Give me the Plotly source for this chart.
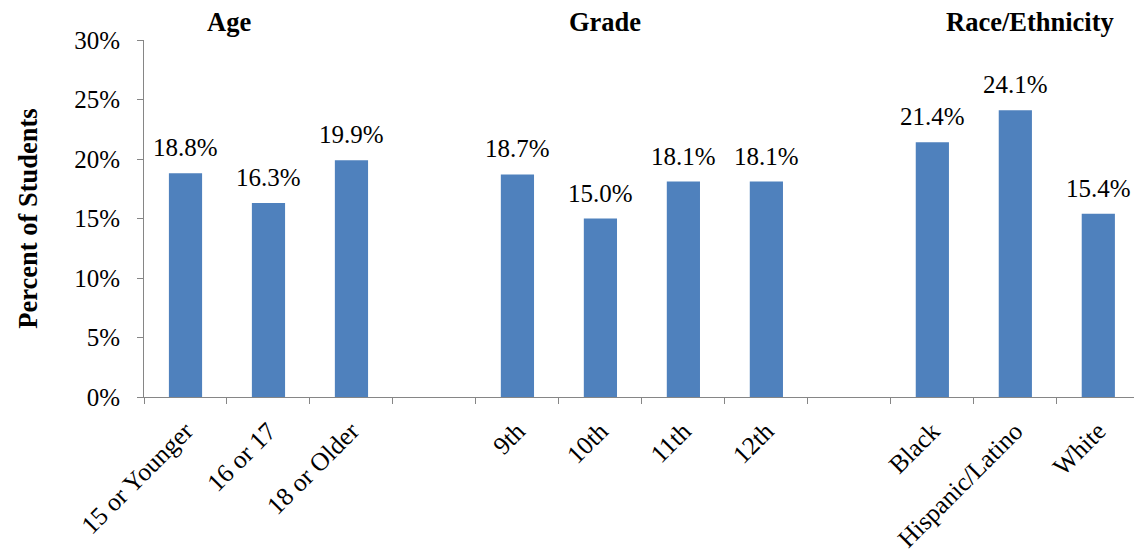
import plotly.graph_objects as go

# Categories, with blank spacer slots separating the three groups
categories = ["15 or Younger", "16 or 17", "18 or Older", " ",
              "9th", "10th", "11th", "12th", "  ",
              "Black", "Hispanic/Latino", "White"]
percent = [18.8, 16.3, 19.9, None,
           18.7, 15.0, 18.1, 18.1, None,
           21.4, 24.1, 15.4]
group_titles = ["Age", "Grade", "Race/Ethnicity"]
group_title_x = [0.52, 5.06, 10.18]
y_ticks = [0, 5, 10, 15, 20, 25, 30]
y_tick_labels = [f"{t}%" for t in y_ticks]

FONT = "Liberation Serif, Times New Roman, serif"
BAR = "#4F81BD"
AXIS = "#868686"
SIZE = 25
TITLE_SIZE = 26.5

fig = go.Figure(go.Bar(
    x=categories,
    y=percent,
    width=0.4,
    marker=dict(color=BAR, line=dict(width=0)),
    cliponaxis=False,
    hoverinfo="x+y",
))

# value labels sitting above each bar
for cat, val in zip(categories, percent):
    if val is None:
        continue
    fig.add_annotation(
        x=cat, y=val, xref="x", yref="y",
        text=f"{val:.1f}%", showarrow=False,
        xanchor="center", yanchor="bottom", yshift=10,
        font=dict(family=FONT, size=SIZE, color="black"),
    )

# group headings above the plot area
for title, xpos in zip(group_titles, group_title_x):
    fig.add_annotation(
        x=xpos, xref="x", y=1.0, yref="paper", yanchor="middle", yshift=18,
        text=f"<b>{title}</b>", showarrow=False,
        font=dict(family=FONT, size=TITLE_SIZE, color="black"),
    )

fig.update_layout(
    width=1134, height=554,
    margin=dict(l=144, r=0, t=40, b=157, autoexpand=False),
    plot_bgcolor="white", paper_bgcolor="white",
    showlegend=False,
    font=dict(family=FONT, size=SIZE, color="black"),
    xaxis=dict(
        type="category",
        categoryorder="array", categoryarray=categories,
        range=[-0.5, 11.43],
        automargin=False,
        tickson="boundaries",
        ticks="outside", ticklen=6, tickcolor=AXIS, tickwidth=1,
        showline=True, linecolor=AXIS, linewidth=1,
        tickangle=-45,
        ticklabelstandoff=8,
        tickfont=dict(family=FONT, size=25.5, color="black"),
        showgrid=False,
    ),
    yaxis=dict(
        range=[0, 30],
        automargin=False,
        tickmode="array",
        tickvals=y_ticks,
        ticktext=y_tick_labels,
        ticks="outside", ticklen=6, tickcolor=AXIS, tickwidth=1,
        showline=True, linecolor=AXIS, linewidth=1,
        ticklabelstandoff=12,
        showgrid=False, zeroline=False,
        tickfont=dict(family=FONT, size=SIZE, color="black"),
        title=dict(text="<b>Percent of Students</b>", standoff=28,
                   font=dict(family=FONT, size=TITLE_SIZE, color="black")),
    ),
)

fig.write_html("out.html")
